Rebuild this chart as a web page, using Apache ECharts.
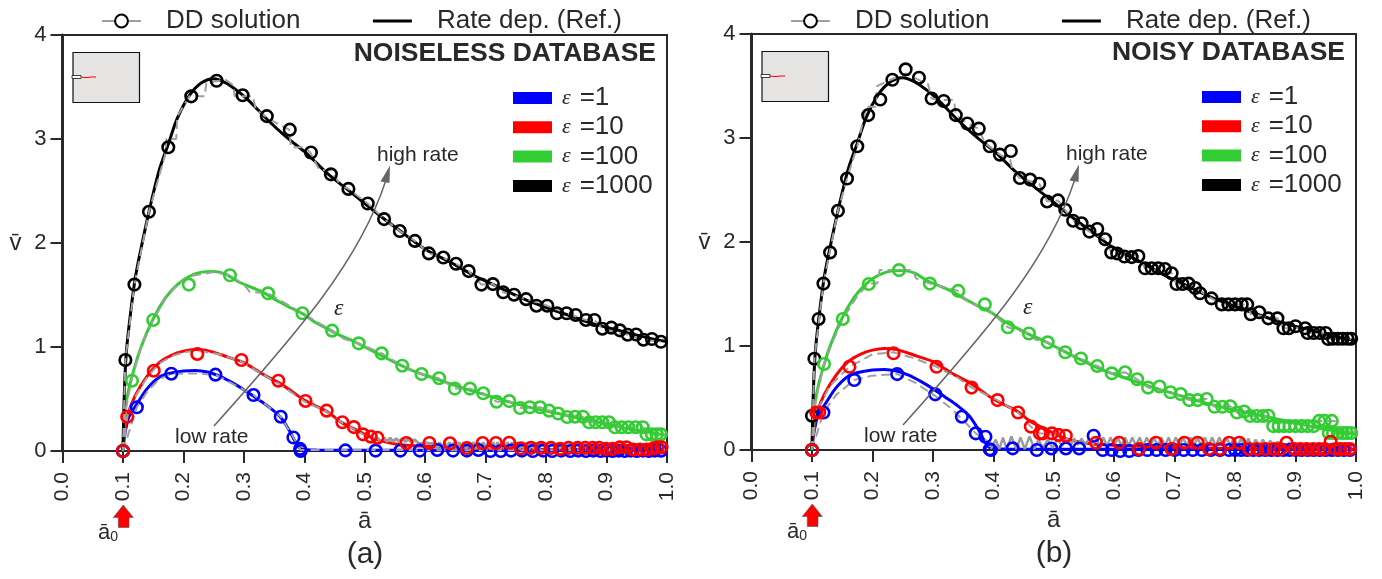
<!doctype html>
<html>
    <head>
        <meta charset="utf-8">
        <style>html,body{margin:0;background:#fff}#main{width:1382px;height:579px}</style>
    </head>
    <body>
        <div id="main"></div>
        <script src="https://cdn.jsdelivr.net/npm/echarts@6/dist/echarts.min.js"></script>
        <script>
            // rate dependent reference curves, same in both panels
            var refBlue = [[0.1,0],[0.102,0.12],[0.105,0.22],[0.11,0.33],[0.125,0.47],[0.14,0.6],[0.16,0.71],[0.18,0.75],[0.2,0.77],[0.22,0.775],[0.24,0.76],[0.26,0.72],[0.28,0.66],[0.3,0.59],[0.32,0.51],[0.34,0.43],[0.36,0.33],[0.375,0.2],[0.385,0.09],[0.395,0.02],[0.42,0.01],[1,0.005]];
            var refRed = [[0.1,0],[0.103,0.2],[0.108,0.35],[0.12,0.53],[0.14,0.72],[0.16,0.85],[0.18,0.92],[0.2,0.96],[0.22,0.975],[0.24,0.965],[0.26,0.93],[0.28,0.89],[0.3,0.85],[0.32,0.78],[0.34,0.71],[0.36,0.65],[0.38,0.57],[0.4,0.49],[0.42,0.43],[0.44,0.37],[0.46,0.28],[0.48,0.22],[0.5,0.16],[0.52,0.11],[0.54,0.08],[0.56,0.06],[0.6,0.045],[0.7,0.025],[0.8,0.015],[1,0.01]];
            var refGreen = [[0.1,0],[0.103,0.35],[0.108,0.55],[0.115,0.72],[0.13,1],[0.15,1.27],[0.17,1.47],[0.19,1.6],[0.21,1.68],[0.23,1.72],[0.25,1.725],[0.27,1.7],[0.29,1.63],[0.31,1.58],[0.33,1.53],[0.36,1.43],[0.38,1.37],[0.4,1.31],[0.42,1.23],[0.44,1.17],[0.46,1.11],[0.48,1.06],[0.5,1],[0.54,0.88],[0.58,0.77],[0.62,0.69],[0.66,0.61],[0.7,0.54],[0.74,0.47],[0.78,0.41],[0.82,0.36],[0.86,0.31],[0.9,0.26],[0.94,0.21],[0.97,0.18],[1,0.15]];
            var refBlack = [[0.1,0],[0.102,0.5],[0.105,0.9],[0.11,1.2],[0.12,1.65],[0.13,1.95],[0.145,2.35],[0.16,2.7],[0.175,2.95],[0.19,3.2],[0.21,3.42],[0.23,3.54],[0.25,3.58],[0.27,3.54],[0.29,3.46],[0.31,3.36],[0.34,3.18],[0.37,3.02],[0.4,2.88],[0.42,2.77],[0.44,2.66],[0.47,2.52],[0.5,2.38],[0.53,2.24],[0.56,2.11],[0.6,1.94],[0.64,1.82],[0.68,1.69],[0.72,1.58],[0.76,1.47],[0.8,1.38],[0.84,1.3],[0.88,1.22],[0.92,1.16],[0.96,1.1],[1,1.05]];

            // panel (a), noiseless: circles
            var ddBlueA = [[0.1,0],[0.123,0.42],[0.18,0.743],[0.253,0.734],[0.316,0.538],[0.361,0.33],[0.382,0.13],[0.393,0.02],[0.394,0],[0.468,0.006],[0.518,0.004],[0.559,0.004],[0.591,0.004],[0.62,0.01],[0.646,0.004],[0.669,0.004],[0.688,0.01],[0.708,0],[0.725,0],[0.742,0.004],[0.76,0.004],[0.778,0],[0.795,0.004],[0.81,0],[0.825,0.004],[0.84,0],[0.853,0.004],[0.866,0],[0.878,0.004],[0.89,0],[0.9,0.004],[0.91,0],[0.92,0.004],[0.93,0],[0.94,0.004],[0.95,0],[0.96,0.004],[0.97,0],[0.98,0.004],[0.99,0.003]];
            var ddRedA = [[0.1,0],[0.107,0.33],[0.151,0.772],[0.223,0.933],[0.296,0.875],[0.357,0.676],[0.402,0.481],[0.437,0.388],[0.463,0.276],[0.482,0.23],[0.497,0.16],[0.51,0.138],[0.521,0.128],[0.569,0.077],[0.607,0.077],[0.641,0.074],[0.669,0.029],[0.695,0.077],[0.717,0.077],[0.739,0.08],[0.758,0.026],[0.775,0.03],[0.792,0.03],[0.808,0.03],[0.823,0.02],[0.837,0.03],[0.852,0.03],[0.865,0.03],[0.877,0.03],[0.888,0.03],[0.899,0.02],[0.91,0.02],[0.922,0.035],[0.933,0.035],[0.944,0.015],[0.955,0.015],[0.966,0.015],[0.977,0.025],[0.984,0.035],[0.991,0.035]];
            var ddGreenA = [[0.1,0],[0.115,0.676],[0.15,1.26],[0.209,1.6],[0.277,1.69],[0.34,1.516],[0.397,1.324],[0.446,1.157],[0.49,1.035],[0.528,0.939],[0.562,0.82],[0.594,0.74],[0.623,0.7],[0.649,0.6],[0.674,0.6],[0.696,0.555],[0.718,0.474],[0.739,0.48],[0.757,0.413],[0.773,0.42],[0.79,0.42],[0.805,0.388],[0.82,0.36],[0.835,0.327],[0.848,0.33],[0.861,0.33],[0.871,0.276],[0.882,0.276],[0.893,0.276],[0.904,0.276],[0.914,0.228],[0.925,0.228],[0.936,0.228],[0.948,0.228],[0.96,0.228],[0.966,0.16],[0.975,0.16],[0.983,0.16],[0.99,0.16]];
            var ddBlackA = [[0.1,0],[0.104,0.875],[0.119,1.6],[0.143,2.3],[0.175,2.92],[0.213,3.41],[0.255,3.56],[0.298,3.42],[0.338,3.22],[0.376,3.09],[0.411,2.87],[0.444,2.66],[0.473,2.52],[0.505,2.38],[0.532,2.23],[0.558,2.115],[0.583,2.02],[0.606,1.9],[0.63,1.86],[0.651,1.8],[0.672,1.73],[0.693,1.6],[0.712,1.605],[0.729,1.526],[0.747,1.503],[0.767,1.46],[0.784,1.397],[0.802,1.397],[0.818,1.324],[0.834,1.324],[0.849,1.308],[0.866,1.26],[0.88,1.26],[0.893,1.176],[0.908,1.186],[0.922,1.16],[0.935,1.118],[0.949,1.12],[0.961,1.07],[0.975,1.077],[0.99,1.05]];
            // panel (a): dashed DD lines, they have more points than the circles
            var lineBlueA = [[0.1,0],[0.123,0.42],[0.14,0.57],[0.16,0.69],[0.18,0.743],[0.22,0.745],[0.253,0.734],[0.28,0.65],[0.316,0.538],[0.34,0.43],[0.361,0.33],[0.382,0.13],[0.394,0.01],[1,0.005]];
            var lineRedA = [[0.1,0],[0.107,0.33],[0.12,0.52],[0.14,0.71],[0.16,0.84],[0.18,0.91],[0.2,0.95],[0.223,0.965],[0.26,0.93],[0.296,0.86],[0.33,0.74],[0.357,0.65],[0.402,0.47],[0.437,0.38],[0.463,0.27],[0.482,0.21],[0.497,0.16],[0.51,0.135],[0.521,0.125]];
            var lineGreenA = [[0.1,0],[0.104,0.38],[0.115,0.7],[0.13,1],[0.15,1.26],[0.17,1.46],[0.19,1.6],[0.21,1.68],[0.25,1.72],[0.277,1.69],[0.3,1.6],[0.31,1.53],[0.34,1.516],[0.397,1.324],[0.446,1.157],[0.465,1.08],[0.49,1.035],[0.528,0.939],[0.562,0.82],[0.594,0.74],[0.623,0.7],[0.649,0.6],[0.674,0.6],[0.696,0.555],[0.718,0.474],[0.739,0.48],[0.757,0.413],[0.79,0.42],[0.82,0.36],[0.861,0.33],[0.871,0.276],[0.904,0.276],[0.914,0.228],[0.96,0.228],[0.966,0.16],[1,0.16]];
            var lineBlackA = [[0.1,0],[0.104,0.875],[0.119,1.6],[0.143,2.3],[0.17,2.85],[0.172,3],[0.188,3],[0.19,3.22],[0.21,3.41],[0.235,3.41],[0.238,3.54],[0.27,3.57],[0.282,3.52],[0.285,3.41],[0.315,3.41],[0.32,3.28],[0.34,3.2],[0.355,3.15],[0.375,3.09],[0.378,2.92],[0.4,2.92],[0.41,2.87],[0.425,2.7],[0.445,2.7],[0.46,2.55],[0.473,2.52],[0.505,2.38],[0.532,2.23],[0.558,2.115],[0.583,2.02],[0.606,1.9],[0.63,1.86],[0.651,1.8],[0.672,1.73],[0.693,1.6],[0.712,1.605],[0.729,1.526],[0.767,1.46],[0.802,1.397],[0.834,1.324],[0.866,1.26],[0.88,1.26],[0.893,1.176],[0.935,1.118],[0.961,1.07],[0.99,1.05]];
            // oscillating tail of the DD line, seen as a grey band under the circles
            var tailA = [[0.521,0.125],[0.527,0.09],[0.532,0.125],[0.537,0.09],[0.542,0.125],[0.547,0.09],[0.552,0.12],[0.557,0.09],[0.562,0.12],[0.567,0.09],[0.572,0.115],[0.577,0.085],[0.582,0.11],[0.59,0.07],[0.6,0.08],[0.61,0.07],[0.616,0.08],[0.62,0.02],[0.624,0.085],[0.628,0.02],[0.632,0.085],[0.636,0.02],[0.64,0.085],[0.644,0.02],[0.648,0.085],[0.652,0.02],[0.656,0.085],[0.66,0.02],[0.664,0.085],[0.668,0.02],[0.672,0.085],[0.676,0.02],[0.68,0.085],[0.684,0.02],[0.688,0.085],[0.692,0.02],[0.696,0.085],[0.7,0.02],[0.704,0.085],[0.708,0.02],[0.712,0.085],[0.716,0.02],[0.72,0.085],[0.724,0.02],[0.728,0.085],[0.732,0.02],[0.736,0.085],[0.74,0.02],[0.744,0.085],[0.748,0.02],[0.752,0.085],[0.756,0.02],[0.76,0.085],[0.764,0.02],[0.768,0.085],[0.772,0.02],[0.776,0.085],[0.78,0.02],[0.784,0.085],[0.788,0.02],[0.792,0.08],[0.8,0.02],[0.81,0.07],[0.82,0.02],[0.83,0.07],[0.84,0.02],[0.85,0.07],[0.86,0.02],[0.87,0.06],[0.88,0.02],[0.89,0.06],[0.9,0.02],[0.92,0.05],[0.94,0.02],[0.96,0.04],[0.98,0.02],[1,0.02]];

            // panel (b), noisy: circles
            var ddBlueB = [[0.1,0],[0.119,0.36],[0.17,0.673],[0.241,0.73],[0.304,0.535],[0.348,0.32],[0.371,0.16],[0.387,0.128],[0.394,0.006],[0.396,0],[0.432,0.016],[0.472,0],[0.496,0.015],[0.52,0.015],[0.542,0.015],[0.566,0.137],[0.581,0],[0.596,0],[0.61,-0.01],[0.625,-0.01],[0.64,0],[0.655,0],[0.67,0],[0.685,0],[0.7,0],[0.715,0],[0.73,0],[0.745,0],[0.76,0],[0.775,0],[0.79,0],[0.8,0],[0.81,0],[0.82,0],[0.83,0],[0.84,0],[0.85,0],[0.86,0],[0.87,0],[0.88,0],[0.89,0],[0.9,0],[0.91,0],[0.92,0],[0.93,0],[0.94,0],[0.95,0],[0.96,0],[0.97,0],[0.98,0],[0.99,0]];
            var ddRedB = [[0.1,0],[0.107,0.36],[0.112,0.36],[0.162,0.8],[0.235,0.93],[0.306,0.8],[0.364,0.6],[0.407,0.48],[0.441,0.36],[0.462,0.225],[0.477,0.16],[0.482,0.16],[0.497,0.16],[0.508,0.145],[0.52,0.137],[0.57,0.07],[0.608,0.07],[0.641,0.01],[0.669,0.07],[0.695,0.01],[0.716,0.07],[0.738,0.07],[0.757,0.01],[0.775,0.01],[0.79,0.07],[0.807,0.07],[0.823,0.01],[0.836,0.01],[0.85,0.01],[0.864,0.01],[0.875,0.01],[0.885,0.07],[0.898,0.01],[0.908,0.01],[0.918,0.01],[0.929,0.01],[0.939,0.01],[0.948,0.01],[0.958,0.08],[0.966,0.01],[0.974,0.01],[0.982,0.01],[0.99,0.01]];
            var ddGreenB = [[0.1,0],[0.12,0.827],[0.151,1.26],[0.194,1.596],[0.244,1.73],[0.295,1.6],[0.342,1.53],[0.386,1.4],[0.424,1.18],[0.459,1.12],[0.49,1.035],[0.519,0.94],[0.545,0.88],[0.572,0.808],[0.596,0.737],[0.618,0.747],[0.638,0.68],[0.656,0.6],[0.675,0.61],[0.693,0.555],[0.71,0.538],[0.724,0.48],[0.738,0.48],[0.753,0.49],[0.766,0.416],[0.779,0.416],[0.792,0.42],[0.803,0.36],[0.815,0.37],[0.825,0.327],[0.836,0.327],[0.846,0.327],[0.855,0.33],[0.863,0.23],[0.872,0.23],[0.881,0.23],[0.89,0.23],[0.9,0.23],[0.91,0.23],[0.92,0.23],[0.93,0.23],[0.939,0.28],[0.948,0.28],[0.96,0.28],[0.955,0.163],[0.962,0.163],[0.97,0.163],[0.978,0.163],[0.985,0.163],[0.992,0.163]];
            var ddBlackB = [[0.1,0],[0.1,0.33],[0.104,0.878],[0.111,1.26],[0.119,1.6],[0.13,1.9],[0.143,2.3],[0.158,2.61],[0.175,2.92],[0.193,3.22],[0.213,3.37],[0.233,3.56],[0.255,3.66],[0.277,3.58],[0.298,3.38],[0.318,3.356],[0.338,3.22],[0.357,3.14],[0.376,3.09],[0.394,2.92],[0.411,2.84],[0.429,2.875],[0.444,2.615],[0.461,2.6],[0.476,2.56],[0.489,2.39],[0.507,2.4],[0.519,2.31],[0.532,2.205],[0.546,2.18],[0.559,2.1],[0.572,2.125],[0.585,2.026],[0.595,1.9],[0.605,1.89],[0.617,1.86],[0.629,1.855],[0.64,1.865],[0.651,1.747],[0.662,1.747],[0.673,1.747],[0.684,1.74],[0.695,1.7],[0.703,1.596],[0.713,1.596],[0.723,1.6],[0.734,1.557],[0.742,1.507],[0.761,1.458],[0.778,1.4],[0.789,1.4],[0.8,1.4],[0.811,1.4],[0.82,1.4],[0.826,1.305],[0.84,1.324],[0.855,1.266],[0.87,1.266],[0.88,1.17],[0.889,1.17],[0.9,1.19],[0.916,1.17],[0.92,1.125],[0.93,1.125],[0.94,1.125],[0.95,1.125],[0.954,1.067],[0.962,1.07],[0.97,1.07],[0.978,1.07],[0.986,1.07],[0.992,1.07]];
            // panel (b): dashed DD lines
            var lineBlueB = [[0.1,0],[0.119,0.36],[0.14,0.53],[0.17,0.673],[0.2,0.715],[0.241,0.73],[0.27,0.65],[0.304,0.52],[0.33,0.4],[0.348,0.3],[0.371,0.16],[0.387,0.1],[0.396,0.01]];
            var lineRedB = [[0.1,0],[0.107,0.36],[0.13,0.62],[0.162,0.8],[0.2,0.92],[0.235,0.94],[0.27,0.88],[0.306,0.8],[0.34,0.7],[0.364,0.6],[0.407,0.48],[0.441,0.36],[0.462,0.225],[0.477,0.16],[0.497,0.15],[0.52,0.137]];
            var lineGreenB = [[0.1,0],[0.105,0.45],[0.12,0.827],[0.135,1.05],[0.151,1.26],[0.175,1.48],[0.194,1.6],[0.208,1.6],[0.212,1.73],[0.267,1.73],[0.272,1.65],[0.295,1.6],[0.342,1.53],[0.36,1.41],[0.386,1.38],[0.424,1.18],[0.459,1.12],[0.47,1.06],[0.49,1.035],[0.519,0.94],[0.545,0.88],[0.572,0.808],[0.596,0.737],[0.618,0.747],[0.638,0.68],[0.656,0.6],[0.693,0.555],[0.724,0.48],[0.753,0.49],[0.766,0.416],[0.792,0.42],[0.803,0.36],[0.825,0.327],[0.855,0.33],[0.863,0.26],[0.93,0.25],[0.939,0.28],[0.965,0.28],[0.97,0.2],[1,0.17]];
            var lineBlackB = [[0.1,0],[0.104,0.878],[0.119,1.6],[0.143,2.3],[0.16,2.65],[0.175,2.92],[0.19,3.3],[0.205,3.3],[0.208,3.5],[0.23,3.56],[0.255,3.62],[0.28,3.55],[0.292,3.52],[0.298,3.38],[0.31,3.365],[0.335,3.365],[0.338,3.22],[0.357,3.14],[0.376,3.09],[0.386,2.95],[0.411,2.84],[0.428,2.79],[0.432,2.68],[0.444,2.615],[0.476,2.56],[0.489,2.39],[0.507,2.4],[0.532,2.205],[0.559,2.1],[0.585,2.026],[0.595,1.9],[0.64,1.865],[0.651,1.747],[0.695,1.7],[0.703,1.596],[0.734,1.557],[0.761,1.458],[0.778,1.4],[0.82,1.4],[0.826,1.305],[0.87,1.266],[0.88,1.17],[0.916,1.17],[0.92,1.125],[0.95,1.125],[0.954,1.07],[0.992,1.07]];
            var tailB = [[0.396,0.01],[0.404,0.1],[0.41,0.01],[0.416,0.12],[0.422,0.01],[0.43,0.13],[0.438,0.01],[0.445,0.12],[0.452,0.01],[0.46,0.13],[0.468,0.01],[0.475,0.1],[0.482,0.02],[0.49,0.1],[0.498,0.02],[0.506,0.1],[0.514,0.04],[0.522,0.11],[0.528,0.05],[0.534,0.11],[0.54,0.05],[0.546,0.11],[0.552,0.05],[0.558,0.11],[0.564,0.05],[0.57,0.11],[0.576,0.05],[0.582,0.12],[0.588,0.04],[0.594,0.12],[0.6,0.04],[0.606,0.12],[0.612,0.04],[0.618,0.12],[0.624,0.04],[0.63,0.12],[0.636,0.04],[0.642,0.12],[0.648,0.04],[0.654,0.12],[0.66,0.04],[0.666,0.12],[0.672,0.04],[0.678,0.12],[0.684,0.04],[0.69,0.12],[0.696,0.04],[0.702,0.12],[0.708,0.04],[0.714,0.12],[0.72,0.04],[0.726,0.12],[0.732,0.04],[0.738,0.12],[0.744,0.04],[0.75,0.12],[0.756,0.04],[0.762,0.12],[0.768,0.04],[0.774,0.12],[0.78,0.04],[0.786,0.12],[0.792,0.04],[0.798,0.12],[0.804,0.04],[0.81,0.11],[0.816,0.03],[0.822,0.11],[0.828,0.03],[0.834,0.1],[0.84,0.03],[0.846,0.1],[0.852,0.03],[0.858,0.09],[0.864,0.03],[0.87,0.08],[0.88,0.03],[0.89,0.07],[0.9,0.03],[0.91,0.06],[0.92,0.03],[0.93,0.06],[0.94,0.03],[0.95,0.05],[0.97,0.03],[0.99,0.01]];

            var tickLabelsX = ['0.0','0.1','0.2','0.3','0.4','0.5','0.6','0.7','0.8','0.9','1.0'];
            var epsNames = ['ε =1','ε =10','ε =100','ε =1000'];
            var epsColors = ['#0000ff','#ff0000','#32cd32','#000000'];

            var ink = '#2b2829';
            var font = '"Liberation Sans", Arial, sans-serif';
            var grey = '#a0a0a0';
            var chart = echarts.init(document.getElementById('main'));

            function refSeries(name, color, data, idx) {
                return {name: name, type: 'line', xAxisIndex: idx, yAxisIndex: idx, data: data, smooth: 0.3, symbol: 'none', clip: false, z: 2,
                    lineStyle: {color: color, width: 3}, itemStyle: {color: color}};
            }
            function dashSeries(name, data, idx) {
                return {name: name, type: 'line', xAxisIndex: idx, yAxisIndex: idx, data: data, symbol: 'none', clip: false, z: 3,
                    lineStyle: {color: grey, width: 2, type: [9, 5]}};
            }
            function circleSeries(name, color, data, idx) {
                return {name: name, type: 'line', xAxisIndex: idx, yAxisIndex: idx, data: data, symbol: 'circle', symbolSize: 11.5, clip: false, z: 4,
                    lineStyle: {width: 0, color: grey, type: [13, 13, 13]},
                    itemStyle: {color: 'rgba(255,255,255,0)', borderColor: color, borderWidth: 2.6}};
            }
            function tailSeries(data, idx, width) {
                return {name: 'DD tail', type: 'line', xAxisIndex: idx, yAxisIndex: idx, data: data, symbol: 'none', clip: false, z: 3,
                    lineStyle: {color: '#9a9a9a', width: width}};
            }
            function panelSeries(idx, circles, lines, tail, tailWidth) {
                return [
                    refSeries('ε =1', epsColors[0], refBlue, idx),
                    refSeries('ε =10', epsColors[1], refRed, idx),
                    refSeries('ε =100', epsColors[2], refGreen, idx),
                    refSeries('Rate dep. (Ref.)', epsColors[3], refBlack, idx),
                    dashSeries('DD line ε =1', lines[0], idx),
                    dashSeries('DD line ε =10', lines[1], idx),
                    dashSeries('DD line ε =100', lines[2], idx),
                    dashSeries('DD line ε =1000', lines[3], idx),
                    tailSeries(tail, idx, tailWidth),
                    circleSeries('DD solution', '#000', circles[3], idx),
                    circleSeries('DD ε =100', epsColors[2], circles[2], idx),
                    circleSeries('DD ε =1', epsColors[0], circles[0], idx),
                    circleSeries('DD ε =10', epsColors[1], circles[1], idx)
                ];
            }
            function xAxisOf(idx) {
                return {gridIndex: idx, type: 'value', min: 0, max: 1, interval: 0.1, name: 'ā', nameLocation: 'middle', nameGap: 47,
                    nameTextStyle: {fontSize: 24, color: ink, fontFamily: font},
                    axisLine: {show: true, onZero: false, lineStyle: {color: ink, width: 2}},
                    axisTick: {show: true, length: 12, lineStyle: {color: ink, width: 2}},
                    axisLabel: {rotate: 90, margin: 21, fontSize: 21, color: ink, fontFamily: font, showMaxLabel: true,
                        formatter: function (v) { return tickLabelsX[Math.round(v * 10)]; }},
                    splitLine: {show: false}};
            }
            function yAxisOf(idx) {
                return {gridIndex: idx, type: 'value', min: 0, max: 4, interval: 1, name: 'v̄', nameLocation: 'middle', nameGap: 41, nameRotate: 0,
                    nameTextStyle: {fontSize: 24, color: ink, fontFamily: font},
                    axisLine: {show: true, onZero: false, lineStyle: {color: ink, width: 3}},
                    axisTick: {show: true, length: 12, lineStyle: {color: ink, width: 2}},
                    axisLabel: {margin: 16, fontSize: 22, color: ink, fontFamily: font},
                    splitLine: {show: false}};
            }
            function topLegend(left) {
                return {left: left, top: 3, itemWidth: 39, itemHeight: 16, itemGap: 71, selectedMode: false,
                    data: [
                        {name: 'DD solution', lineStyle: {width: 2, color: grey, type: [13, 13, 13]}},
                        {name: 'Rate dep. (Ref.)', icon: 'line', itemStyle: {borderColor: '#000', borderWidth: 3}}
                    ],
                    textStyle: {fontSize: 26, color: ink, fontFamily: font, padding: [0, 0, 0, 20]}};
            }
            function epsLegend(left, top) {
                return {orient: 'vertical', left: left, top: top, itemWidth: 39, itemHeight: 12, itemGap: 3.3, selectedMode: false,
                    data: epsNames.map(function (n, i) {
                        return {name: n, icon: 'rect', itemStyle: {color: epsColors[i], borderWidth: 0}};
                    }),
                    formatter: function (n) { return '{e|ε}{t|' + n.replace('ε ', '') + '}'; },
                    textStyle: {rich: {
                        e: {fontFamily: '"Liberation Serif", serif', fontStyle: 'italic', fontSize: 22, color: ink, padding: [0, 9, 0, 5]},
                        t: {fontSize: 26, color: ink, fontFamily: font, lineHeight: 29}
                    }}};
            }
            // notch specimen, arrows and notes for one panel, dx/dy is the panel offset
            function notes(dx, dy, title, tag) {
                var txt = function (x, y, text, extra) {
                    var st = {x: x + dx, y: y + dy, text: text, fill: ink, font: '21px ' + font, textVerticalAlign: 'middle'};
                    for (var k in extra) st[k] = extra[k];
                    return {type: 'text', z: 10, style: st};
                };
                return [
                    {type: 'rect', z: 1, shape: {x: 73 + dx, y: 52.5 + dy, width: 66.5, height: 50}, style: {fill: '#e6e3e3', stroke: '#111', lineWidth: 1.2}},
                    {type: 'rect', z: 1, shape: {x: 72 + dx, y: 75.5 + dy, width: 9, height: 3}, style: {fill: '#fff', stroke: '#111', lineWidth: 0.8}},
                    {type: 'polyline', z: 1, shape: {points: [[81 + dx, 77 + dy], [85 + dx, 77.5 + dy], [88 + dx, 77.5 + dy], [91 + dx, 77 + dy], [96 + dx, 77 + dy]]}, style: {stroke: '#ff0000', lineWidth: 1, fill: 'none'}},
                    {type: 'bezierCurve', z: 5, shape: {x1: 214 + dx, y1: 426 + dy, cpx1: 300 + dx, cpy1: 330 + dy, cpx2: 360 + dx, cpy2: 260 + dy, x2: 386 + dx, y2: 180 + dy}, style: {stroke: '#666', lineWidth: 1.5, fill: 'none'}},
                    {type: 'polygon', z: 5, shape: {points: [[390 + dx, 165.5 + dy], [380.5 + dx, 181.5 + dy], [389.5 + dx, 183 + dy]]}, style: {fill: '#666'}},
                    {type: 'polygon', z: 5, shape: {points: [[123.3 + dx, 505 + dy], [133.3 + dx, 517.5 + dy], [129 + dx, 517.5 + dy], [129 + dx, 527.5 + dy], [118.3 + dx, 527.5 + dy], [118.3 + dx, 517.5 + dy], [113.3 + dx, 517.5 + dy]]}, style: {fill: '#ff0000', stroke: '#555', lineWidth: 0.6}},
                    txt(377, 155, 'high rate'),
                    txt(175, 437, 'low rate'),
                    txt(334, 309, 'ε', {font: 'italic 24px "Liberation Serif", serif'}),
                    txt(656, 54, title, {font: 'bold 26.5px ' + font, textAlign: 'right'}),
                    {type: 'text', z: 10, style: {x: 98 + dx, y: 533 + dy, textVerticalAlign: 'middle', text: '{a|ā}{s|0}', fill: ink,
                        rich: {a: {fontSize: 22, fontFamily: font, fill: ink}, s: {fontSize: 14, fontFamily: font, fill: ink, verticalAlign: 'bottom', padding: [8, 0, 0, 0]}}}},
                    txt(365, 555, tag, {font: '30px ' + font, textAlign: 'center'})
                ];
            }

            chart.setOption({
                animation: false,
                backgroundColor: '#fff',
                textStyle: {fontFamily: font},
                grid: [
                    {left: 62.5, top: 35, width: 604.5, height: 416, show: true, borderColor: ink, borderWidth: 2, backgroundColor: 'transparent'},
                    {left: 751.5, top: 34, width: 604.5, height: 416, show: true, borderColor: ink, borderWidth: 2, backgroundColor: 'transparent'}
                ],
                xAxis: [xAxisOf(0), xAxisOf(1)],
                yAxis: [yAxisOf(0), yAxisOf(1)],
                legend: [topLegend(96), topLegend(785), epsLegend(508, 80), epsLegend(1197, 79)],
                series: panelSeries(0, [ddBlueA, ddRedA, ddGreenA, ddBlackA], [lineBlueA, lineRedA, lineGreenA, lineBlackA], tailA, 3)
                    .concat(panelSeries(1, [ddBlueB, ddRedB, ddGreenB, ddBlackB], [lineBlueB, lineRedB, lineGreenB, lineBlackB], tailB, 2.4))
                    .concat([{name: 'ε =1000', type: 'line', data: [], itemStyle: {color: '#000'}, lineStyle: {color: '#000'}}]),
                graphic: notes(0, 0, 'NOISELESS DATABASE', '(a)').concat(notes(689, -1, 'NOISY DATABASE', '(b)'))
            });

            window.onresize = chart.resize;
        </script>
    </body>
</html>
